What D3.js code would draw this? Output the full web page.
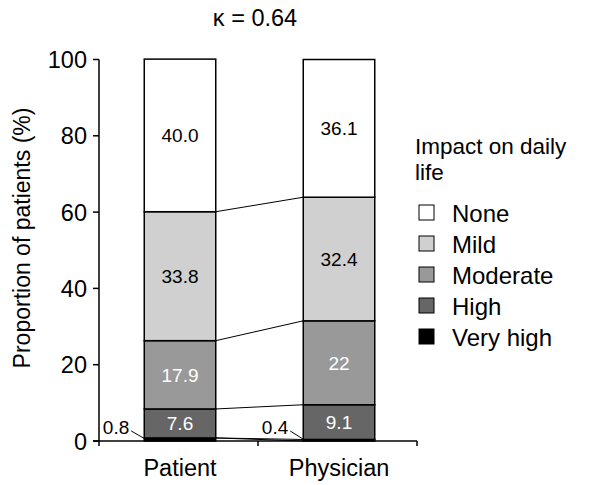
<!DOCTYPE html>
<html><head><meta charset="utf-8">
<script src="https://cdn.jsdelivr.net/npm/d3@7"></script>
<style>body{margin:0;background:#fff}text{font-family:Arial,"Liberation Sans",sans-serif}</style>
</head><body><svg id="c" width="600" height="485"></svg>
<script>
const categories = ["Patient", "Physician"];
const levels = ["Very high", "High", "Moderate", "Mild", "None"];
const patientValues = [0.8, 7.6, 17.9, 33.8, 40.0];
const physicianValues = [0.4, 9.1, 22, 32.4, 36.1];
const valueLabels = [["0.8", "7.6", "17.9", "33.8", "40.0"], ["0.4", "9.1", "22", "32.4", "36.1"]];
const yTicks = [0, 20, 40, 60, 80, 100];
const legendOrder = ["None", "Mild", "Moderate", "High", "Very high"];
const colors = {"None": "#ffffff", "Mild": "#d0d0d0", "Moderate": "#999999", "High": "#666666", "Very high": "#000000"};
const textColors = {"None": "#000", "Mild": "#000", "Moderate": "#fff", "High": "#fff", "Very high": "#000"};

const svg = d3.select("#c");
const y = d3.scaleLinear().domain([0, 100]).range([441, 59.5]);
const x = d3.scaleBand().domain(categories).range([99, 417]).paddingInner(0).paddingOuter(0);
const barW = 71.5;
const offset = 1.5;

const series = [patientValues, physicianValues];
const stacks = series.map(vals => {
  let acc = 0;
  return vals.map((v, i) => { const s = {level: levels[i], y0: acc, y1: acc + v, v}; acc += v; return s; });
});

const cxOf = c => x(c) + x.bandwidth() / 2 + offset;

// connectors
for (let i = 0; i < levels.length; i++) {
  const a = stacks[0][i], b = stacks[1][i];
  if (a.y1 >= 99.9) continue;
  svg.append("line").attr("x1", cxOf(categories[0]) + barW / 2).attr("y1", y(a.y1))
    .attr("x2", cxOf(categories[1]) - barW / 2).attr("y2", y(b.y1))
    .attr("stroke", "#000").attr("stroke-width", 1);
}
svg.append("line")
  .attr("x1", cxOf(categories[0]) + barW / 2).attr("y1", y(patientValues[0]))
  .attr("x2", cxOf(categories[1]) - barW / 2).attr("y2", y(0))
  .attr("stroke", "#000").attr("stroke-width", 1);

// bars
stacks.forEach((st, ci) => {
  const cx = cxOf(categories[ci]);
  st.forEach((s, li) => {
    svg.append("rect").attr("x", cx - barW / 2).attr("y", y(s.y1)).attr("width", barW)
      .attr("height", y(s.y0) - y(s.y1)).attr("fill", colors[s.level])
      .attr("stroke", "#000").attr("stroke-width", 1.5);
    if (li > 0) {
      svg.append("text").attr("x", cx).attr("y", y((s.y0 + s.y1) / 2) + 7)
        .attr("text-anchor", "middle").attr("font-size", 19).attr("fill", textColors[s.level])
        .text(valueLabels[ci][li]);
    }
  });
  const lx = cx - barW / 2;
  svg.append("text").attr("x", lx - 15).attr("y", 434).attr("text-anchor", "end")
    .attr("font-size", 19).text(valueLabels[ci][0]);
  svg.append("line").attr("x1", lx - 13).attr("y1", 431).attr("x2", lx).attr("y2", y(st[0].v / 2) - 1)
    .attr("stroke", "#000").attr("stroke-width", 1);
});

// y axis
svg.append("line").attr("x1", 99).attr("x2", 99).attr("y1", y(0)).attr("y2", y(100)).attr("stroke", "#000").attr("stroke-width", 1.5);
yTicks.forEach(t => {
  svg.append("line").attr("x1", 93).attr("x2", 99).attr("y1", y(t)).attr("y2", y(t)).attr("stroke", "#000").attr("stroke-width", 1.5);
  svg.append("text").attr("x", 87).attr("y", y(t) + 8.5).attr("text-anchor", "end").attr("font-size", 23.5).text(t);
});
// x axis
svg.append("line").attr("x1", 93).attr("x2", 417).attr("y1", y(0)).attr("y2", y(0)).attr("stroke", "#000").attr("stroke-width", 1.5);
[x.range()[0], x(categories[1]), x.range()[1]].forEach(t => {
  svg.append("line").attr("x1", t).attr("x2", t).attr("y1", y(0)).attr("y2", y(0) + 5).attr("stroke", "#000").attr("stroke-width", 1.5);
});
categories.forEach(c => {
  svg.append("text").attr("x", cxOf(c)).attr("y", 476).attr("text-anchor", "middle")
    .attr("font-size", 23.5).text(c);
});

// y label
svg.append("text").attr("transform", "translate(30,238) rotate(-90)").attr("text-anchor", "middle")
  .attr("font-size", 23).text("Proportion of patients (%)");

// title
svg.append("text").attr("x", 255).attr("y", 26).attr("text-anchor", "middle").attr("font-size", 23.5).text("κ = 0.64");

// legend
svg.append("text").attr("x", 415).attr("y", 153.5).attr("font-size", 22.5).text("Impact on daily");
svg.append("text").attr("x", 415).attr("y", 179.5).attr("font-size", 22.5).text("life");
legendOrder.forEach((l, i) => {
  const yy = 213 + i * 31;
  svg.append("rect").attr("x", 419).attr("y", yy - 8).attr("width", 15).attr("height", 15)
    .attr("fill", colors[l]).attr("stroke", "#000").attr("stroke-width", 1);
  svg.append("text").attr("x", 452).attr("y", yy + 8.5).attr("font-size", 24).text(l);
});
</script></body></html>
